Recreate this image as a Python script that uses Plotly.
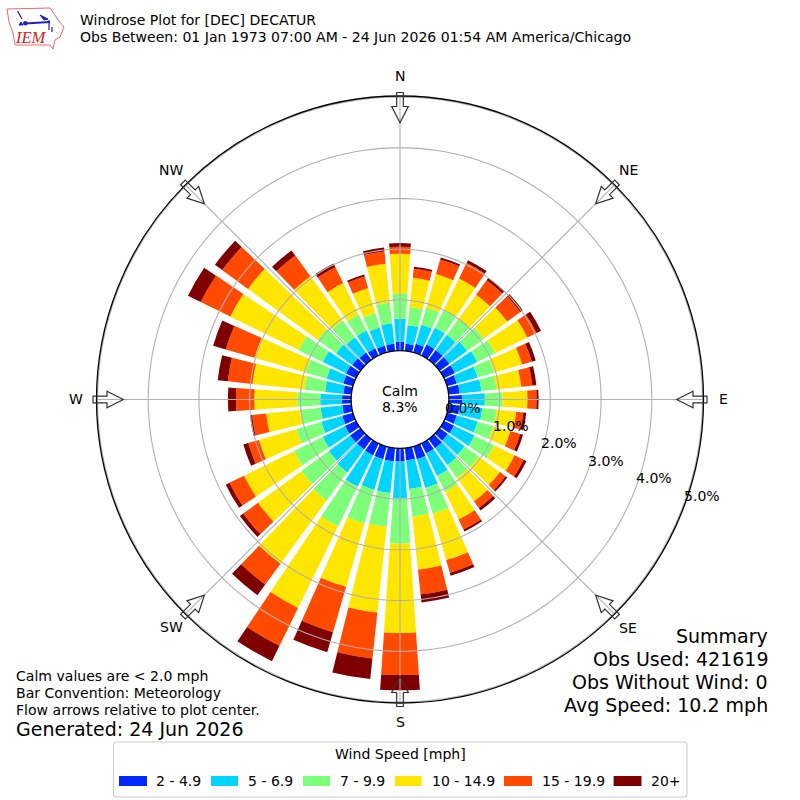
import math
import plotly.graph_objects as go

directions = list(range(0, 360, 10))
speed_bins = ["2 - 4.9", "5 - 6.9", "7 - 9.9", "10 - 14.9", "15 - 19.9", "20+"]
bin_colors = ["#0029ff", "#00d4ff", "#7dff7a", "#ffe600", "#ff4a00", "#7f0000"]

s_2_5 = [.18,.14,.18,.24,.24,.24,.24,.20,.22,.26,.22,.20,.22,.20,.22,.22,.26,.24,
         .26,.26,.26,.26,.25,.25,.24,.22,.18,.18,.16,.20,.22,.20,.18,.16,.14,.14]
s_5_7 = [.45,.37,.39,.37,.37,.43,.49,.43,.43,.45,.45,.43,.45,.41,.41,.49,.59,.57,
         .73,.63,.63,.69,.56,.52,.49,.43,.43,.43,.36,.34,.51,.39,.37,.39,.37,.41]
s_7_10 = [.49,.36,.35,.39,.39,.41,.39,.34,.30,.35,.28,.32,.43,.35,.32,.35,.53,.55,
          .89,.67,.69,.87,.69,.67,.63,.51,.41,.45,.41,.43,.53,.45,.41,.35,.30,.41]
s_10_15 = [.79,.58,.69,.69,.59,.57,.71,.57,.49,.49,.39,.35,.45,.51,.57,.61,.95,1.05,
           1.76,1.70,1.30,1.79,1.54,1.06,1.10,.77,.67,.85,1.03,1.05,1.50,1.70,1.08,.69,.51,.77]
s_15_20 = [.14,.18,.30,.34,.35,.32,.20,.20,.22,.18,.14,.20,.20,.14,.16,.22,.26,.49,
           .83,.91,.93,.83,.51,.36,.32,.22,.28,.36,.49,.59,.65,.63,.51,.35,.24,.24]
s_20p = [.07,.04,.04,.06,.06,.06,.10,.08,.08,.04,.06,.06,.06,.04,.06,.04,.06,.16,
         .30,.41,.41,.34,.26,.08,.08,.10,.04,.16,.20,.26,.28,.18,.12,.08,.04,.08]
series = [s_2_5, s_5_7, s_7_10, s_10_15, s_15_20, s_20p]

ring_values = [0, 1, 2, 3, 4, 5]
ring_labels = ["0.0%", "1.0%", "2.0%", "3.0%", "4.0%", "5.0%"]
compass_names = ["N", "NE", "E", "SE", "S", "SW", "W", "NW"]
compass_angles = [0, 45, 90, 135, 180, 225, 270, 315]

W = H = 800.0
CX, CY, R = 400.0, 399.5, 303.5
HOLE = 0.161
RMAX = 5.02
FONT = "DejaVu Sans"
GRID = "#b0b0b0"


def px(x):
    return x / W


def py(y):
    return 1 - y / H


def wedge_width(v_mid):
    # slight taper: gaps close a little more near the hole than a pure sector
    r_mid = R * (HOLE + (1 - HOLE) * v_mid / RMAX)
    return math.degrees((0.8 + 0.134 * r_mid) / r_mid)


fig = go.Figure()
cumulative = [0.0] * len(directions)
for name, color, vals in zip(speed_bins, bin_colors, series):
    widths = [wedge_width(c + v / 2) for c, v in zip(cumulative, vals)]
    fig.add_trace(go.Barpolar(theta=directions, r=vals, width=widths, name=name,
                              marker=dict(color=color, line=dict(width=0)),
                              showlegend=False))
    cumulative = [c + v for c, v in zip(cumulative, vals)]

circle_theta = list(range(0, 361, 2))
for ring in ring_values[1:]:
    fig.add_trace(go.Scatterpolar(theta=circle_theta, r=[ring] * len(circle_theta), mode="lines",
                                  line=dict(color=GRID, width=1.1), showlegend=False, hoverinfo="skip"))
for ang in compass_angles:
    fig.add_trace(go.Scatterpolar(theta=[ang, ang], r=[0, RMAX], mode="lines",
                                  line=dict(color=GRID, width=1.1), showlegend=False, hoverinfo="skip"))

shapes = []
annotations = []


def text(x, y, s, size=14.05, anchor="left", color="#000000", family=FONT):
    annotations.append(dict(x=px(x), y=py(y), xref="paper", yref="paper", text=s, showarrow=False,
                            xanchor=anchor, yanchor="middle", align=anchor, borderpad=0, borderwidth=0,
                            font=dict(size=size, color=color, family=family)))


def path(points, close=True, **kw):
    d = "M" + " L".join(f"{px(a):.5f},{py(b):.5f}" for a, b in points) + (" Z" if close else "")
    shapes.append(dict(type="path", xref="paper", yref="paper", path=d, **kw))


# compass arrows
tail, base, tip, shaft, head = 307.0, 293.0, 276.7, 3.3, 8.3
for ang in compass_angles:
    a = math.radians(ang)
    ux, uy = math.sin(a), -math.cos(a)
    nx, ny = -uy, ux
    pts = [(tail, shaft), (base, shaft), (base, head), (tip, 0), (base, -head), (base, -shaft), (tail, -shaft)]
    path([(CX + ux * r + nx * o, CY + uy * r + ny * o) for r, o in pts],
         line=dict(color="#333333", width=1.2), fillcolor="rgba(255,255,255,0)")

# compass labels
label_xy = [(400, 76), (628, 170), (723, 399), (628, 628), (400, 722), (171, 627), (76, 399), (171, 170)]
for n, (x, y) in zip(compass_names, label_xy):
    text(x, y, n, anchor="center")

# radial labels
for lab, v in zip(ring_labels, ring_values):
    text(463 + 47.8 * v, 408 + 17.6 * v, lab, anchor="center")

# centre
text(400, 391, "Calm", anchor="center")
text(400, 407, "8.3%", anchor="center")

# titles
text(80, 20, "Windrose Plot for [DEC] DECATUR")
text(80, 37, "Obs Between: 01 Jan 1973 07:00 AM - 24 Jun 2026 01:54 AM America/Chicago")

# summary
for y, s in zip([636, 659, 682, 705], ["Summary", "Obs Used: 421619", "Obs Without Wind: 0", "Avg Speed: 10.2 mph"]):
    text(768, y, s, size=19, anchor="right")

# notes
for y, s in zip([676, 693, 710], ["Calm values are < 2.0 mph", "Bar Convention: Meteorology",
                                  "Flow arrows relative to plot center."]):
    text(16, y, s)
text(16, 729, "Generated: 24 Jun 2026", size=19)

# legend box
x0, x1, y0, y1, q = 113.5, 687.0, 742.0, 797.0, 3.0
d = (f"M{px(x0+q)},{py(y0)} L{px(x1-q)},{py(y0)} Q{px(x1)},{py(y0)} {px(x1)},{py(y0+q)} "
     f"L{px(x1)},{py(y1-q)} Q{px(x1)},{py(y1)} {px(x1-q)},{py(y1)} L{px(x0+q)},{py(y1)} "
     f"Q{px(x0)},{py(y1)} {px(x0)},{py(y1-q)} L{px(x0)},{py(y0+q)} Q{px(x0)},{py(y0)} {px(x0+q)},{py(y0)} Z")
shapes.append(dict(type="path", xref="paper", yref="paper", path=d, line=dict(color="#cccccc", width=1.1),
                   fillcolor="white", layer="above"))
text(400, 753.5, "Wind Speed [mph]", anchor="center")
swatch_x = [(119, 147), (211, 238), (303, 330), (395, 421.6), (504, 532), (613.6, 641.5)]
text_x = [156, 248, 340, 431.5, 541.7, 651.4]
for (a, b), tx, color, name in zip(swatch_x, text_x, bin_colors, speed_bins):
    shapes.append(dict(type="rect", xref="paper", yref="paper", x0=px(a), x1=px(b), y0=py(776), y1=py(786),
                       fillcolor=color, line=dict(width=0)))
    text(tx, 781, name)

# logo
iowa = [(7, 9), (50, 8), (55, 15), (58, 20), (64, 27), (60, 37), (55, 40), (53, 49), (50, 45), (15, 45),
        (13, 33), (9, 22)]
path(iowa, line=dict(color="#e86a6a", width=1), fillcolor="rgba(0,0,0,0)")
LB = "#1a22c8"
path([(25, 23.5), (50, 22)], close=False, line=dict(color=LB, width=2))
path([(40, 15), (48, 19), (44, 20)], line=dict(color=LB, width=1), fillcolor=LB)
path([(49, 20), (49, 30)], close=False, line=dict(color=LB, width=1.2))
path([(52, 27), (52, 32)], close=False, line=dict(color=LB, width=1.2))
path([(17.5, 11), (22, 19)], close=False, line=dict(color=LB, width=1.2))
path([(19, 25), (21, 22), (23, 25)], line=dict(color=LB, width=1), fillcolor=LB)
shapes.append(dict(type="circle", xref="paper", yref="paper", x0=px(23), x1=px(27.5), y0=py(21), y1=py(25.5),
                   fillcolor=LB, line=dict(width=0)))
text(30.5, 38, "<i>IEM</i>", size=16.5, anchor="center", color="#d42020", family="Liberation Serif")

fig.update_layout(
    width=800, height=800, autosize=False,
    margin=dict(l=0, r=0, t=0, b=0, pad=0),
    paper_bgcolor="white", showlegend=False,
    shapes=shapes, annotations=annotations,
    polar=dict(
        domain=dict(x=[px(CX - R), px(CX + R)], y=[py(CY + R), py(CY - R)]),
        hole=HOLE, bgcolor="white", barmode="stack",
        radialaxis=dict(range=[0, RMAX], visible=False, showgrid=False, showline=False, showticklabels=False),
        angularaxis=dict(direction="clockwise", rotation=90, showgrid=False, showticklabels=False, ticks="",
                         showline=True, linecolor="black", linewidth=1.3, tickmode="array",
                         tickvals=compass_angles),
    ),
)
fig.write_html("out.html", config={"displayModeBar": False},
               post_script="document.body.style.margin='0';document.documentElement.style.overflow='hidden';")
